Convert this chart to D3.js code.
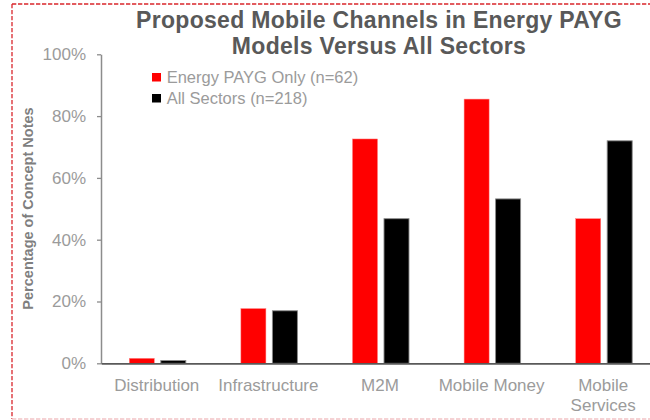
<!DOCTYPE html>
<html>
<head>
<meta charset="utf-8">
<script src="https://cdn.jsdelivr.net/npm/d3@7"></script>
<style>
  html, body { margin: 0; padding: 0; background: #fff; }
  svg { display: block; font-family: "Liberation Sans", Arial, sans-serif; }
</style>
</head>
<body>
<svg id="chart" width="650" height="420"></svg>
<script>
// Channel categories (line breaks marked with "\n")
const categories = ["Distribution", "Infrastructure", "M2M", "Mobile Money", "Mobile\nServices"];
const seriesNames = ["Energy PAYG Only (n=62)", "All Sectors (n=218)"];
const seriesColors = ["#ff0000", "#000000"];
// Share of concept notes proposing each channel
const energyPayg = [0.016, 0.177, 0.726, 0.855, 0.468];
const allSectors = [0.009, 0.170, 0.468, 0.532, 0.720];
const yTicks = [0, 0.2, 0.4, 0.6, 0.8, 1.0];
const titleLines = ["Proposed Mobile Channels in Energy PAYG", "Models Versus All Sectors"];
const yTitle = "Percentage of Concept Notes";

const svg = d3.select("#chart");

// Dashed frame around the chart area
const frame = svg.append("g");
frame.append("line").attr("x1", 12).attr("x2", 660).attr("y1", 4).attr("y2", 4)
  .attr("stroke", "#d9262b").attr("stroke-width", 1.3).attr("stroke-dasharray", "4.3,1.7");
frame.append("line").attr("x1", 12).attr("x2", 12).attr("y1", 4).attr("y2", 419)
  .attr("stroke", "#d9262b").attr("stroke-width", 1.3).attr("stroke-dasharray", "4.3,1.7");
frame.append("line").attr("x1", 12).attr("x2", 660).attr("y1", 419).attr("y2", 419)
  .attr("stroke", "#f2c4c6").attr("stroke-width", 1.3).attr("stroke-dasharray", "4.3,1.7");

const plot = { left: 101, top: 54.3, bottom: 363.3, step: 111.6 };

const x0 = d3.scaleBand()
  .domain(categories)
  .range([plot.left, plot.left + plot.step * categories.length])
  .paddingInner(0).paddingOuter(0);

const x1 = d3.scaleBand()
  .domain(seriesNames)
  .range([28.3, 28.3 + 56.5])
  .paddingInner(0.206).paddingOuter(0);

const y = d3.scaleLinear().domain([0, 1]).range([plot.bottom, plot.top]);

// Title
const title = svg.append("text")
  .attr("x", 379).attr("y", 27.7)
  .attr("text-anchor", "middle")
  .attr("fill", "#595959")
  .attr("font-weight", "bold")
  .attr("font-size", 23)
  .attr("letter-spacing", 0.3);
titleLines.forEach((t, i) => {
  title.append("tspan").attr("x", 379).attr("dy", i === 0 ? 0 : 26.3).text(t);
});

// Y axis
const yAxis = svg.append("g")
  .attr("transform", `translate(${plot.left},0)`)
  .call(d3.axisLeft(y).tickValues(yTicks).tickFormat(d3.format(".0%"))
    .tickSize(4).tickSizeOuter(0).tickPadding(11));
yAxis.select(".domain").attr("stroke", "#8c8c8c").attr("stroke-width", 1.5);
yAxis.selectAll(".tick line").attr("stroke", "#8c8c8c").attr("stroke-width", 1.3);
yAxis.selectAll(".tick text")
  .attr("fill", "#9b9b9b")
  .attr("font-size", 17)
  .attr("font-family", "'Liberation Sans', Arial, sans-serif");

// Y axis title
svg.append("text")
  .attr("transform", `translate(33,208.5) rotate(-90)`)
  .attr("text-anchor", "middle")
  .attr("fill", "#7f7f7f")
  .attr("font-weight", "bold")
  .attr("font-size", 14.5)
  .text(yTitle);

// Bars
const seriesValues = [energyPayg, allSectors];
const groups = svg.append("g").selectAll("g")
  .data(categories)
  .join("g")
  .attr("transform", d => `translate(${x0(d)},0)`);

groups.selectAll("rect")
  .data((c, i) => seriesNames.map((s, k) => ({ s, k, v: seriesValues[k][i] })))
  .join("rect")
  .attr("x", d => x1(d.s))
  .attr("width", x1.bandwidth())
  .attr("y", d => y(d.v))
  .attr("height", d => y(0) - y(d.v))
  .attr("fill", d => seriesColors[d.k])
  .attr("stroke", d => d.k === 1 ? "#8a8a8a" : "#ff8080")
  .attr("stroke-width", d => d.k === 1 ? 0.9 : 0.5);

// X axis
const xAxis = svg.append("g")
  .attr("transform", `translate(0,${plot.bottom})`)
  .call(d3.axisBottom(x0).tickSize(0).tickSizeOuter(0).tickPadding(0));
xAxis.select(".domain").attr("stroke", "#595959").attr("stroke-width", 1.8);
xAxis.selectAll(".tick text").each(function(d) {
  const t = d3.select(this);
  t.text(null)
    .attr("y", 27.4)
    .attr("dy", null)
    .attr("fill", "#9b9b9b")
    .attr("font-size", 17)
    .attr("font-family", "'Liberation Sans', Arial, sans-serif");
  d.split("\n").forEach((line, i) => {
    t.append("tspan").attr("x", 0).attr("dy", i === 0 ? 0 : 20).text(line);
  });
});

// Legend
const legend = svg.append("g").selectAll("g")
  .data(seriesNames)
  .join("g")
  .attr("transform", (d, i) => `translate(152,${73 + i * 21})`);
legend.append("rect")
  .attr("width", 9).attr("height", 8.5)
  .attr("fill", (d, i) => seriesColors[i]);
legend.append("text")
  .attr("x", 14.7).attr("y", 9.7)
  .attr("fill", "#9b9b9b")
  .attr("font-size", 16.5)
  .text(d => d);
</script>
</body>
</html>
